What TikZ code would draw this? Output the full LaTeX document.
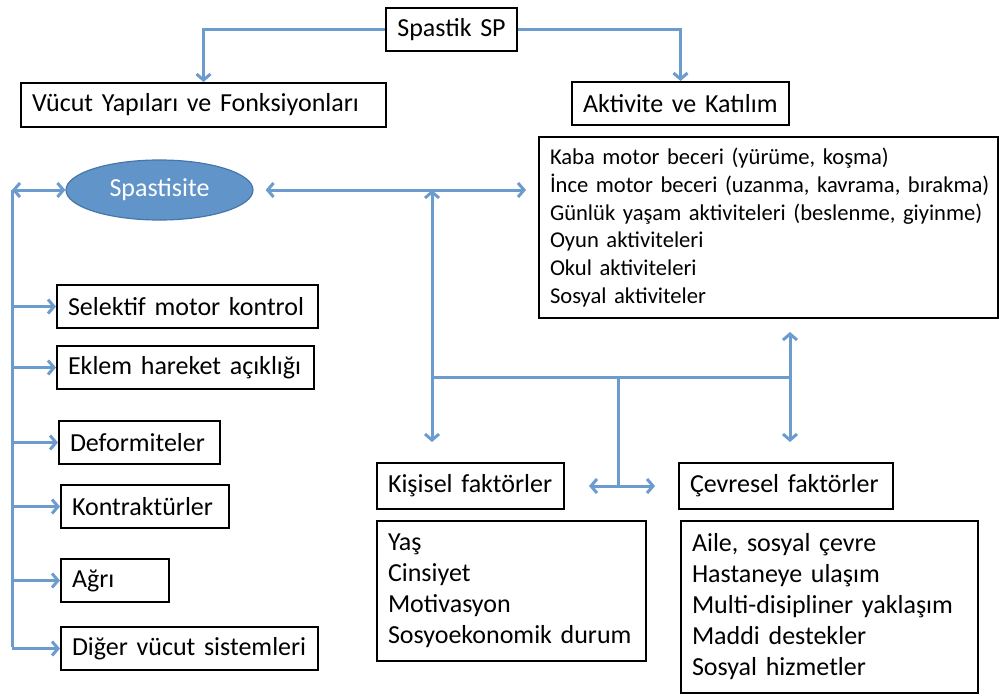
\documentclass[tikz,border=0pt]{standalone}
\usepackage{fontspec}
\setmainfont{Carlito}
\usetikzlibrary{arrows.meta,shapes.geometric,calc}
\definecolor{linkblue}{RGB}{108,155,206}
\definecolor{ovalfill}{RGB}{97,148,200}
\definecolor{ovaldraw}{RGB}{70,118,170}
\newcommand{\oneline}[1]{\mbox{#1}}
\begin{document}
\begin{tikzpicture}[x=1pt,y=-1pt,
  >={Straight Barb[length=6pt,width=14pt]},
  box/.style={draw=black,line width=2pt,anchor=north west,align=left,
    inner xsep=11pt,inner ysep=0pt,font=\fontsize{26}{31}\selectfont},
  link/.style={draw=linkblue,line width=3pt}]
\useasboundingbox (0,0) rectangle (1000,696);

% top level
\node[box,align=center,minimum width=131pt,minimum height=43pt,text width=109pt] (sp) at (385,7) {Spastik SP};
\node[box,minimum width=365pt,minimum height=44pt,text width=343pt] (vucut) at (20,82) {\oneline{Vücut Yapıları ve Fonksiyonları}};
\node[box,minimum width=217pt,minimum height=43pt,text width=195pt] (akt) at (571,81) {\oneline{Aktivite ve Katılım}};

% activity list
\node[box,minimum width=459pt,minimum height=181pt,text width=437pt,font=\fontsize{22.6}{27.8}\selectfont] (actlist) at (538,136)
  {\oneline{Kaba motor beceri (yürüme, koşma)}\\\oneline{İnce motor beceri (uzanma, kavrama, bırakma)}\\\oneline{Günlük yaşam aktiviteleri (beslenme, giyinme)}\\\oneline{Oyun aktiviteleri}\\\oneline{Okul aktiviteleri}\\\oneline{Sosyal aktiviteler}};

% spasticity oval
\node[ellipse,minimum width=187pt,minimum height=60pt,fill=ovalfill,draw=ovaldraw,line width=1.2pt,
  text=white,font=\fontsize{26}{31}\selectfont] (spas) at (159.5,190) {Spastisite};

% body structure items
\node[box,minimum width=261pt,minimum height=43pt,text width=239pt] (sel) at (56,284) {\oneline{Selektif motor kontrol}};
\node[box,minimum width=257pt,minimum height=43pt,text width=235pt] (ekl) at (56,345) {\oneline{Eklem hareket açıklığı}};
\node[box,minimum width=161pt,minimum height=43pt,text width=139pt] (def) at (58,420) {\oneline{Deformiteler}};
\node[box,minimum width=168pt,minimum height=43pt,text width=146pt] (kon) at (60,484) {\oneline{Kontraktürler}};
\node[box,minimum width=108pt,minimum height=43pt,text width=86pt] (agr) at (60,558) {\oneline{Ağrı}};
\node[box,minimum width=257pt,minimum height=43pt,text width=235pt] (dig) at (60,626) {\oneline{Diğer vücut sistemleri}};

% contextual factors
\node[box,minimum width=187pt,minimum height=46pt,text width=165pt] (kis) at (376,462) {\oneline{Kişisel faktörler}};
\node[box,minimum width=214pt,minimum height=46pt,text width=192pt] (cev) at (678,462) {\oneline{Çevresel faktörler}};
\node[box,minimum width=269pt,minimum height=140pt,text width=247pt] (kislist) at (376,520)
  {\oneline{Yaş}\\\oneline{Cinsiyet}\\\oneline{Motivasyon}\\\oneline{Sosyoekonomik durum}};
\node[box,minimum width=297pt,minimum height=172pt,text width=275pt] (cevlist) at (680,520)
  {\oneline{Aile, sosyal çevre}\\\oneline{Hastaneye ulaşım}\\\oneline{Multi-disipliner yaklaşım}\\\oneline{Maddi destekler}\\\oneline{Sosyal hizmetler}};

% junction points
\coordinate (ltop) at (12,190);
\coordinate (lbot) at (12,647);
\coordinate (jl) at (432,377);
\coordinate (jm) at (618,377);
\coordinate (jr) at (790,377);

% connectors from the root
\draw[link,->] (sp.west) -| (vucut.north);
\draw[link,->] (sp.east) -| (akt.north);

% left trunk
\draw[link,<->] (ltop) -- (spas.west);
\draw[link] (ltop) -- (lbot);
\foreach \b in {sel,ekl,def,kon,agr,dig}
  \draw[link,->] (ltop |- \b.west) -- (\b.west);

% spasticity <-> activity
\draw[link,<->,shorten <=12pt,shorten >=12pt] (spas.east) -- (spas.east -| actlist.west);

% factor network
\draw[link,->] (jl) -- (jl |- spas.east);
\draw[link,->,shorten >=20pt] (jl) -- (jl |- kis.north);
\draw[link] (jl) -- (jr);
\draw[link,->,shorten >=13pt] (jr) -- (jr |- actlist.south);
\draw[link,->,shorten >=20pt] (jr) -- (jr |- cev.north);
\draw[link] (jm) -- (jm |- kis.east);
\draw[link,<->,shorten <=24pt,shorten >=23pt] (kis.east) -- (cev.west);
\end{tikzpicture}
\end{document}
